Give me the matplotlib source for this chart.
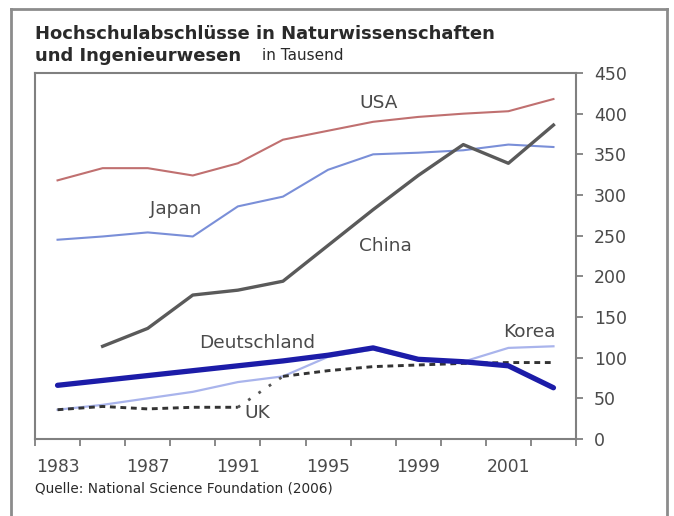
import numpy as np
import matplotlib
matplotlib.use("Agg")
import matplotlib.pyplot as plt
from matplotlib.lines import Line2D

# Degrees in science and engineering, thousands (two-year steps)
positions = list(range(12))
tick_years = ["1983", "1987", "1991", "1995", "1999", "2001"]
usa = [318, 333, 333, 324, 339, 368, 379, 390, 396, 400, 403, 418]
japan = [245, 249, 254, 249, 286, 298, 331, 350, 352, 355, 362, 359]
china = [np.nan, 114, 136, 177, 183, 194, 238, 282, 324, 362, 339, 386]
deutschland = [66, 72, 78, 84, 90, 96, 103, 112, 98, 95, 90, 63]
korea = [36, 42, 50, 58, 70, 77, 101, 110, 97, 95, 112, 114]
uk = [36, 40, 37, 39, 39, 77, 84, 89, 91, 93, 94, 94]
uk_gap = 4  # segment 4 -> 5 has no reported values, drawn dotted

W, H = 674, 516
fig = plt.figure(figsize=(W / 100, H / 100), dpi=100)
fig.patch.set_facecolor("white")


def fx(px):
    return px / W


def fy(py):
    return 1 - py / H


ax = fig.add_axes([fx(35), fy(439), fx(576) - fx(35), fy(73) - fy(439)])

txt = "#4a4a4a"
spine_c = "#808080"

ax.plot(positions, usa, color="#c07070", lw=1.5)
ax.plot(positions, japan, color="#7a8fd8", lw=1.5)
ax.plot(positions, china, color="#5a5a5a", lw=2.4)
ax.plot(positions, korea, color="#a9b4ec", lw=1.6)
ax.plot(positions[:uk_gap + 1], uk[:uk_gap + 1], color="#333333", lw=2.1,
        ls=(0, (2.0, 1.6)))
ax.plot(positions[uk_gap:uk_gap + 2], uk[uk_gap:uk_gap + 2], color="#555555",
        lw=2.0, ls=(0, (1.0, 3.5)))
ax.plot(positions[uk_gap + 1:], uk[uk_gap + 1:], color="#333333", lw=2.1,
        ls=(0, (2.0, 1.6)))
ax.plot(positions, deutschland, color="#1c1ca8", lw=3.8, solid_capstyle="round")

ax.set_xlim(-0.5, 11.5)
ax.set_ylim(0, 450)

# category boundaries carry the tick marks, labels sit in the middle
ax.set_xticks(np.arange(-0.5, 12, 1))
ax.set_xticklabels([])
ax.set_xticks(positions[::2], minor=True)
ax.set_xticklabels(tick_years, minor=True)
ax.tick_params(axis="x", which="major", direction="out", length=5,
               width=1.3, color=spine_c)
ax.tick_params(axis="x", which="minor", length=0, pad=14,
               labelsize=12.3, labelcolor=txt)

ax.yaxis.tick_right()
ax.set_yticks(np.arange(0, 451, 50))
ax.tick_params(axis="y", direction="out", length=5, width=1.3, color=spine_c,
               labelsize=12.5, labelcolor=txt, pad=8)

for s in ax.spines.values():
    s.set_color(spine_c)
    s.set_linewidth(1.5)

# series names
label_kw = dict(ha="center", va="center", fontsize=13.3, color=txt)
ax.text(7.12, 413, "USA", **label_kw)
ax.text(2.62, 283, "Japan", **label_kw)
ax.text(7.28, 237, "China", **label_kw)
ax.text(4.42, 118, "Deutschland", **label_kw)
ax.text(10.46, 132, "Korea", **label_kw)
ax.text(4.44, 32, "UK", **label_kw)

# heading and source
fig.text(fx(35), fy(34), "Hochschulabschlüsse in Naturwissenschaften",
         ha="left", va="center", fontsize=13.0, fontweight="bold", color="#2a2a2a")
fig.text(fx(35), fy(56), "und Ingenieurwesen",
         ha="left", va="center", fontsize=13.0, fontweight="bold", color="#2a2a2a")
fig.text(fx(262), fy(56), "in Tausend",
         ha="left", va="center", fontsize=11.0, color="#2a2a2a")
fig.text(fx(35), fy(488), "Quelle: National Science Foundation (2006)",
         ha="left", va="center", fontsize=9.8, color="#2a2a2a")

# outer frame
frame_kw = dict(color="#8c8c8c", lw=2.0, transform=fig.transFigure)
fig.add_artist(Line2D([fx(11), fx(11)], [fy(9), 0], **frame_kw))
fig.add_artist(Line2D([fx(11), fx(667)], [fy(9), fy(9)], **frame_kw))
fig.add_artist(Line2D([fx(667), fx(667)], [fy(9), 0], **frame_kw))

fig.savefig("out.png", dpi=100, facecolor="white")
